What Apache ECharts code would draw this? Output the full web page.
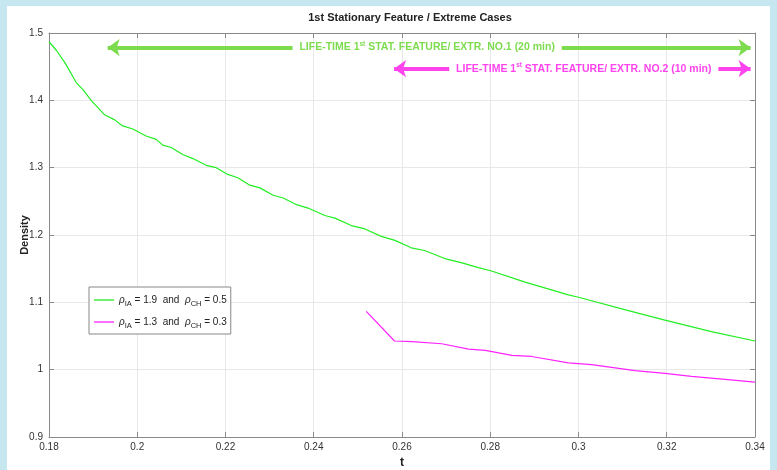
<!DOCTYPE html>
<html><head><meta charset="utf-8">
<script src="https://cdn.jsdelivr.net/npm/echarts@6/dist/echarts.min.js"></script>
<style>
html,body{margin:0;padding:0;background:#c6e7f0;}
#bg{position:absolute;left:7px;top:6px;right:7px;bottom:0;background:#fff;}
#c{position:absolute;left:0;top:0;width:777px;height:470px;}
</style></head><body>
<div id="bg"></div><div id="c"></div>
<script>
const greenT = [0.18,0.1817,0.1836,0.1862,0.1877,0.1896,0.1926,0.1949,0.1967,0.199,0.202,0.2043,0.2058,0.2077,0.2103,0.2126,0.2156,0.2179,0.2205,0.2228,0.2255,0.2278,0.2308,0.2331,0.2361,0.2387,0.2425,0.2448,0.2485,0.2516,0.2553,0.2584,0.2621,0.2651,0.2697,0.2734,0.2773,0.2803,0.2879,0.2977,0.3,0.3113,0.3196,0.3301,0.34];
const greenD = [1.487,1.474,1.456,1.426,1.416,1.3995,1.3785,1.371,1.362,1.3575,1.347,1.342,1.3335,1.330,1.3195,1.3135,1.3035,1.300,1.290,1.285,1.274,1.270,1.259,1.255,1.245,1.240,1.229,1.225,1.214,1.209,1.198,1.192,1.181,1.177,1.165,1.159,1.1516,1.1465,1.130,1.111,1.1075,1.0876,1.0736,1.0565,1.0426];
const magT = [0.2519,0.2583,0.2623,0.269,0.2751,0.2789,0.2849,0.2894,0.2977,0.303,0.3128,0.3196,0.3256,0.3332,0.34];
const magD = [1.0865,1.0426,1.0415,1.0385,1.0306,1.0286,1.0211,1.0196,1.010,1.0076,0.9986,0.9946,0.990,0.9856,0.9816];
const xTicks = [0.18,0.2,0.22,0.24,0.26,0.28,0.3,0.32,0.34];
const yTicks = [0.9,1,1.1,1.2,1.3,1.4,1.5];
const title = '1st Stationary Feature / Extreme Cases';
const seriesNames = ['{i|ρ}{s|IA} = 1.9  and  {i|ρ}{s|CH} = 0.5', '{i|ρ}{s|IA} = 1.3  and  {i|ρ}{s|CH} = 0.3'];
// annotation arrows (data coords)
const arrow1 = {y:1.4784, x0:0.1933, gap0:0.2352, gap1:0.2962, x1:0.339, labelX:0.2657, parts:['LIFE-TIME 1','st',' STAT. FEATURE/ EXTR. NO.1 (20 min)']};
const arrow2 = {y:1.447, x0:0.2582, gap0:0.2707, gap1:0.3317, x1:0.339, labelX:0.3012, parts:['LIFE-TIME 1','st',' STAT. FEATURE/ EXTR. NO.2 (10 min)']};

const FONT = '"Liberation Sans",Arial,sans-serif';
const GREEN = '#22ee22', MAG = '#ff22ff', AG = '#7ddc4e', AM = '#ff44ee';

function pairs(xs, ys){ return xs.map((x,i)=>[x, ys[i]]); }
function arrowLines(a, col){
  return {
    silent:true, animation:false,
    lineStyle:{color:col, width:4, type:'solid'},
    label:{show:false},
    symbolSize:[13,12],
    data:[
      [{coord:[a.x0,a.y], symbol:'arrow'},{coord:[a.gap0,a.y], symbol:'none'}],
      [{coord:[a.gap1,a.y], symbol:'none'},{coord:[a.x1,a.y], symbol:'arrow'}]
    ]
  };
}
function arrowLabel(a, col){
  return {
    silent:true, animation:false, symbol:'rect', symbolSize:0,
    data:[{coord:[a.labelX, a.y]}],
    label:{show:true, position:'inside', formatter:'{a|'+a.parts[0]+'}{s|'+a.parts[1]+'}{a|'+a.parts[2]+'}',
      rich:{a:{color:col, fontSize:10.5, fontWeight:'bold', fontFamily:FONT, lineHeight:14, verticalAlign:'middle'},
            s:{color:col, fontSize:6.5, fontWeight:'bold', fontFamily:FONT, lineHeight:14, verticalAlign:'top', padding:[0,0,4,0]}}}
  };
}
const axisCol = '#8a8a8a';
const chart = echarts.init(document.getElementById('c'));
const leg = {i:{fontFamily:FONT, fontSize:10, color:'#222', fontStyle:'italic', lineHeight:16, verticalAlign:'middle'},
             s:{fontFamily:FONT, fontSize:7.5, color:'#222', lineHeight:16, verticalAlign:'bottom'}};
chart.setOption({
  animation:false,
  textStyle:{fontFamily:FONT},
  title:{text:title, left:405, top:7, textAlign:'center', textStyle:{fontSize:11, fontWeight:'bold', color:'#222', fontFamily:FONT}},
  grid:{left:49, right:22, top:33, bottom:33, containLabel:false, outerBoundsMode:'none'},
  legend:{
    data:seriesNames, orient:'vertical', left:89, top:287, padding:[5,4,4,5], itemGap:6,
    borderColor:'#888', borderWidth:1, backgroundColor:'#fff',
    icon:'rect', itemWidth:20, itemHeight:1.3,
    textStyle:{fontFamily:FONT, fontSize:10, color:'#222', rich:leg, lineHeight:16},
    formatter:n=>n
  },
  xAxis:[{type:'value', min:xTicks[0], max:xTicks[xTicks.length-1], interval:0.02,
    name:'t', nameLocation:'middle', nameGap:20, nameMoveOverlap:false, nameTextStyle:{fontSize:12, fontWeight:'bold', color:'#222', fontFamily:FONT},
    axisLine:{lineStyle:{color:axisCol}}, axisTick:{inside:true, length:5, lineStyle:{color:axisCol}},
    axisLabel:{color:'#333', fontSize:10, margin:5, fontFamily:FONT, formatter:v=>String(parseFloat(v.toFixed(2)))},
    splitLine:{show:true, lineStyle:{color:'#e8e8e8'}}},
    {type:'value', position:'top', min:xTicks[0], max:xTicks[xTicks.length-1], interval:0.02,
    axisLine:{lineStyle:{color:axisCol}}, axisTick:{inside:true, length:5, lineStyle:{color:axisCol}}, axisLabel:{show:false}, splitLine:{show:false}}],
  yAxis:[{type:'value', min:yTicks[0], max:yTicks[yTicks.length-1], interval:0.1,
    name:'Density', nameLocation:'middle', nameRotate:90, nameGap:19, nameMoveOverlap:false, nameTextStyle:{fontSize:11, fontWeight:'bold', color:'#222', fontFamily:FONT},
    axisLine:{show:true, lineStyle:{color:axisCol}}, axisTick:{show:true, inside:true, length:5, lineStyle:{color:axisCol}},
    axisLabel:{color:'#333', fontSize:10, margin:6, fontFamily:FONT, formatter:v=>String(parseFloat(v.toFixed(2)))},
    splitLine:{show:true, lineStyle:{color:'#e8e8e8'}}},
    {type:'value', position:'right', min:yTicks[0], max:yTicks[yTicks.length-1], interval:0.1,
    axisLine:{show:true, lineStyle:{color:axisCol}}, axisTick:{show:true, inside:true, length:5, lineStyle:{color:axisCol}}, axisLabel:{show:false}, splitLine:{show:false}}],
  series:[
    {name:seriesNames[0], type:'line', data:pairs(greenT, greenD), showSymbol:false, lineStyle:{color:GREEN, width:1.2}, itemStyle:{color:GREEN}},
    {name:seriesNames[1], type:'line', data:pairs(magT, magD), showSymbol:false, lineStyle:{color:MAG, width:1.2}, itemStyle:{color:MAG}},
    {name:'a1', type:'line', data:[], markLine:arrowLines(arrow1, AG), markPoint:arrowLabel(arrow1, AG)},
    {name:'a2', type:'line', data:[], markLine:arrowLines(arrow2, AM), markPoint:arrowLabel(arrow2, AM)}
  ]
});
</script></body></html>
